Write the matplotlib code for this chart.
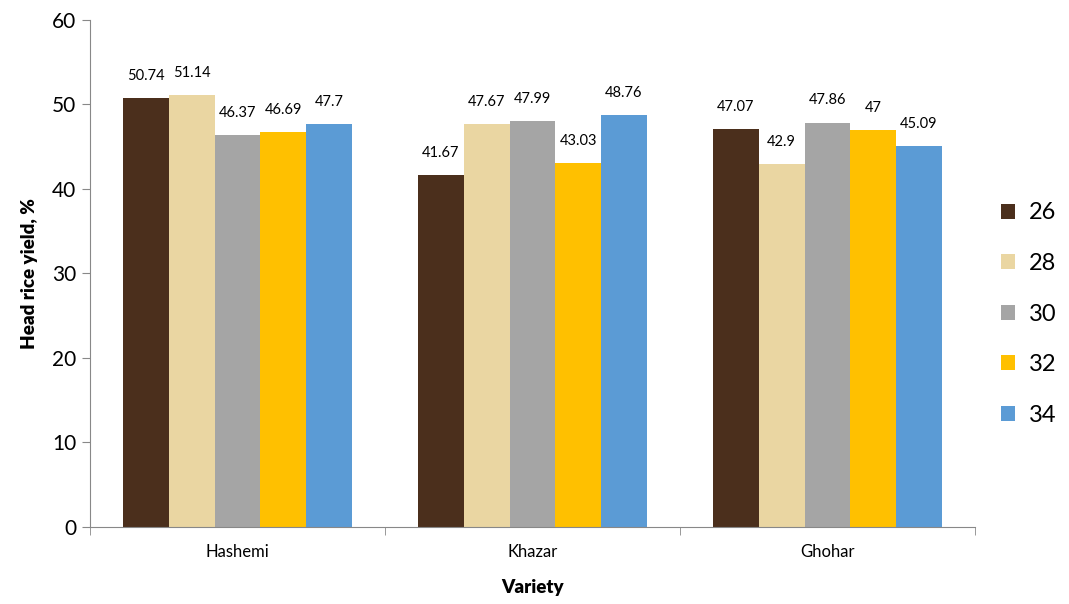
import numpy as np
import matplotlib
matplotlib.use("Agg")
import matplotlib.pyplot as plt

varieties = ["Hashemi", "Khazar", "Ghohar"]
series_names = ["26", "28", "30", "32", "34"]
yield_26 = [50.74, 41.67, 47.07]
yield_28 = [51.14, 47.67, 42.9]
yield_30 = [46.37, 47.99, 47.86]
yield_32 = [46.69, 43.03, 47.0]
yield_34 = [47.7, 48.76, 45.09]
label_26 = ["50.74", "41.67", "47.07"]
label_28 = ["51.14", "47.67", "42.9"]
label_30 = ["46.37", "47.99", "47.86"]
label_32 = ["46.69", "43.03", "47"]
label_34 = ["47.7", "48.76", "45.09"]

plt.rcParams['font.family'] = ['Lato', 'DejaVu Sans']

values = [yield_26, yield_28, yield_30, yield_32, yield_34]
labels = [label_26, label_28, label_30, label_32, label_34]
colors = ["#4b2f1c", "#ead6a2", "#a5a5a5", "#ffc000", "#5b9bd5"]

fig = plt.figure(figsize=(10.69, 6.04), dpi=100)
ax = fig.add_axes([0.0842, 0.1275, 0.8278, 0.8395])

x = np.arange(len(varieties))
w = 0.155
for i, (vals, labs, c, name) in enumerate(zip(values, labels, colors, series_names)):
    pos = x + (i - 2) * w
    bars = ax.bar(pos, vals, width=w, color=c, label=name, linewidth=0)
    for b, t in zip(bars, labs):
        ax.annotate(t, (b.get_x() + b.get_width() / 2, b.get_height()),
                    xytext=(0, 11), textcoords="offset points",
                    ha="center", va="bottom", fontsize=10.5)

ax.set_xlim(-0.5, 2.5)
ax.set_ylim(0, 60)
ax.set_yticks(range(0, 61, 10))
ax.set_xticks(x)
ax.set_xticklabels(varieties, fontsize=12)
ax.set_xticks([-0.5, 0.5, 1.5, 2.5], minor=True)
ax.tick_params(axis="x", which="major", length=0, pad=12)
ax.tick_params(axis="x", which="minor", length=6, color="#888888")
ax.tick_params(axis="y", labelsize=15, length=6, color="#888888", pad=4)

for s in ["top", "right"]:
    ax.spines[s].set_visible(False)
for s in ["left", "bottom"]:
    ax.spines[s].set_color("#888888")

ax.set_ylabel("Head rice yield, %", fontsize=13.5, fontweight="heavy", labelpad=10)
ax.set_xlabel("Variety", fontsize=13.5, fontweight="heavy", labelpad=14)

ax.legend(loc="center left", bbox_to_anchor=(1.005, 0.42), frameon=False,
          fontsize=17, handlelength=0.6, handleheight=0.6, labelspacing=1.25,
          handletextpad=0.6)

fig.savefig("out.png", dpi=100)
